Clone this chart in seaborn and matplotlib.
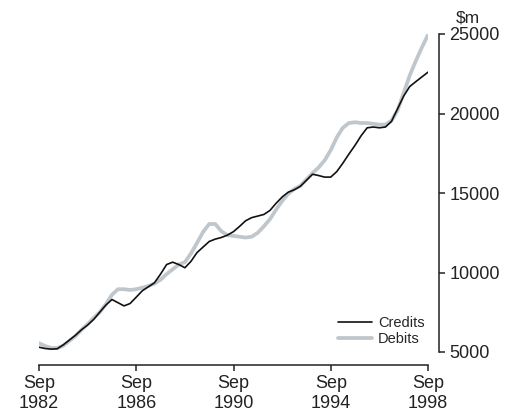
import matplotlib
matplotlib.use("Agg")
import matplotlib.pyplot as plt
import matplotlib.dates as mdates
import seaborn as sns
import pandas as pd

quarters = pd.date_range("1982-09-01", "1998-09-01", freq="3MS")

credits = [5300, 5220, 5180, 5200, 5450, 5750, 6050, 6400, 6700, 7050,
           7500, 7950, 8300, 8100, 7900, 8050, 8450, 8850, 9100, 9350,
           9900, 10500, 10650, 10500, 10300, 10700, 11250, 11600, 11950, 12100,
           12200, 12350, 12570, 12900, 13250, 13450, 13550, 13650, 13900, 14350,
           14750, 15050, 15200, 15420, 15800, 16180, 16100, 16000, 16000, 16350,
           16870, 17450, 18000, 18600, 19100, 19150, 19100, 19150, 19500, 20300,
           21100, 21700, 22000, 22300, 22600]

debits = [5550, 5380, 5250, 5250, 5400, 5700, 6000, 6400, 6750, 7150,
          7500, 8000, 8600, 8950, 8950, 8900, 8950, 9050, 9150, 9300,
          9550, 9900, 10200, 10500, 10650, 11200, 11850, 12550, 13050, 13050,
          12600, 12350, 12300, 12250, 12200, 12250, 12500, 12900, 13350, 13950,
          14500, 14950, 15250, 15450, 15850, 16250, 16600, 17050, 17700, 18500,
          19100, 19400, 19450, 19400, 19400, 19350, 19300, 19300, 19550, 20200,
          21300, 22400, 23300, 24150, 24950]

series_names = ["Credits", "Debits"]
series_colors = {"Credits": "#111111", "Debits": "#bfc7cd"}
series_widths = {"Credits": 1.2, "Debits": 2.7}

y_ticks = [5000, 10000, 15000, 20000, 25000]
x_tick_years = [1982, 1986, 1990, 1994, 1998]
x_tick_labels = ["Sep\n1982", "Sep\n1986", "Sep\n1990", "Sep\n1994", "Sep\n1998"]
unit_label = "\\$m"

df = pd.concat([
    pd.DataFrame({"date": quarters, "value": credits, "series": "Credits"}),
    pd.DataFrame({"date": quarters, "value": debits, "series": "Debits"}),
])

sns.set_style("ticks")
plt.rcParams["font.family"] = ["Liberation Sans", "DejaVu Sans"]
plt.rcParams["font.size"] = 13

W, H = 513, 416
fig = plt.figure(figsize=(W / 100, H / 100), dpi=100)
ax = fig.add_axes([39 / W, 1 - 352 / H, (428 - 39) / W, (352 - 34) / H])

for name in ["Debits", "Credits"]:
    sub = df[df["series"] == name]
    sns.lineplot(data=sub, x="date", y="value", ax=ax, color=series_colors[name],
                 linewidth=series_widths[name], label=name)

x0 = mdates.date2num(quarters[0])
x1 = mdates.date2num(quarters[-1])
ax.set_xlim(x0, x1)
ax.set_ylim(5000, 25000)
ax.set_xlabel("")
ax.set_ylabel("")

ax.yaxis.tick_right()
ax.set_yticks(y_ticks)
ax.set_yticklabels([str(v) for v in y_ticks])
ax.set_xticks([mdates.date2num(pd.Timestamp(f"{y}-09-01")) for y in x_tick_years])
ax.set_xticklabels(x_tick_labels, linespacing=1.15)

for s in ["top", "left"]:
    ax.spines[s].set_visible(False)
ax.spines["bottom"].set_position(("outward", 9))
ax.spines["right"].set_position(("outward", 8))
ax.spines["bottom"].set_bounds(x0, x1)
ax.spines["right"].set_bounds(5000, 25000)
for s in ["bottom", "right"]:
    ax.spines[s].set_linewidth(1.1)
    ax.spines[s].set_color("#222222")
ax.tick_params(axis="both", length=4, width=1.1, color="#222222",
               labelsize=13, labelcolor="#222222")
ax.tick_params(axis="x", pad=3.5)
ax.tick_params(axis="y", pad=3.5)

ax.text(456 / W, 1 - 22 / H, unit_label, transform=fig.transFigure,
        ha="left", va="baseline", fontsize=12.5, color="#222222")

handles, labels = ax.get_legend_handles_labels()
order = [labels.index("Credits"), labels.index("Debits")]
ax.legend([handles[i] for i in order], [labels[i] for i in order],
          loc="upper left", bbox_to_anchor=(338 / W, 1 - 316 / H),
          bbox_transform=fig.transFigure, frameon=False,
          fontsize=10.5, handlelength=2.3, handletextpad=0.45,
          labelspacing=0.17, borderpad=0, borderaxespad=0)

fig.savefig("out.png", dpi=100)
